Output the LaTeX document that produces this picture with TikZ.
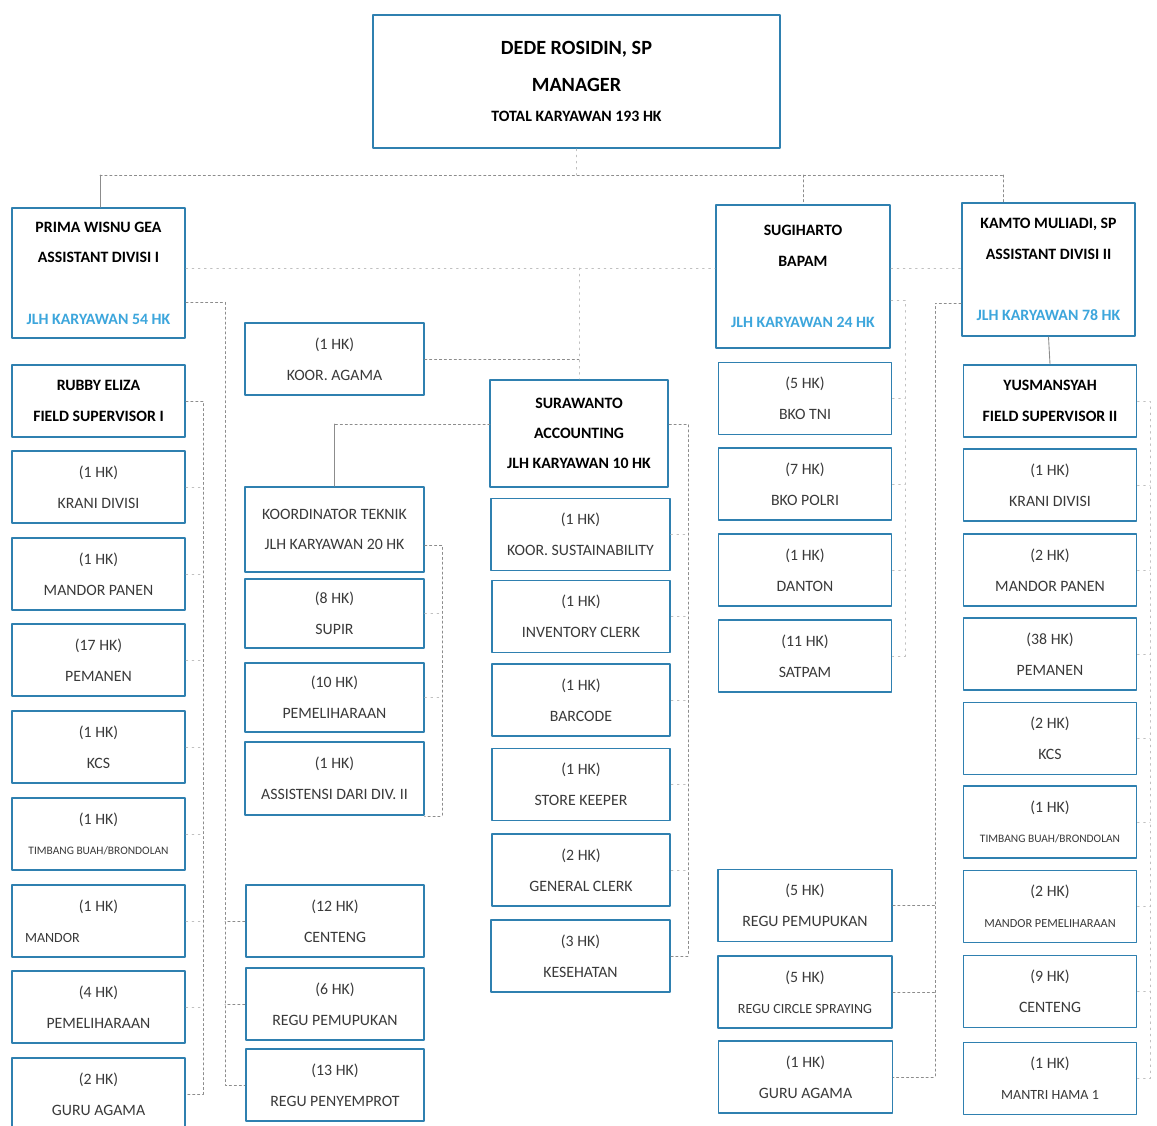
\documentclass[tikz,border=0pt]{standalone}
\usepackage{fontspec}
\setmainfont{Carlito}
\usepackage{xcolor}
\usepackage{tikz}
\usetikzlibrary{calc}
\definecolor{boxline}{HTML}{2F80B0}
\definecolor{jlh}{HTML}{3DA6DC}
\definecolor{ink}{HTML}{3A3A3A}
\definecolor{wire}{HTML}{8C8C8C}
\tikzset{
  unit/.style={draw=boxline, line width=1.1pt, fill=white, align=center, inner sep=0pt,
    text=ink, minimum width=3.46cm, minimum height=1.44cm,
    font=\fontsize{9}{17.5}\selectfont},
  head/.style={unit, text=black, font=\bfseries\fontsize{9}{17.5}\selectfont},
  wide/.style={minimum width=3.57cm},
  wire/.style={draw=wire, line width=0.5pt},
  dotwire/.style={draw=wire, line width=0.5pt, dash pattern=on 1.2pt off 1.6pt},
  faint/.style={draw=wire!55, line width=0.4pt, dash pattern=on 1pt off 2.5pt}
}
\newcommand{\hkline}[2]{(#1 HK)\\#2}
\newcommand{\jlh}[1]{\textcolor{jlh}{JLH KARYAWAN #1 HK}}

\begin{document}
\begin{tikzpicture}[x=0.02cm, y=-0.02cm, line cap=round, line join=round]
  \useasboundingbox (0,0) rectangle (1157,1126);

  % manager
  \node[head, minimum width=8.14cm, minimum height=2.66cm,
        font=\bfseries\fontsize{11.5}{20}\selectfont] (mgr) at (576.5,81.5)
    {DEDE ROSIDIN, SP\\[1pt]{\fontsize{11.5}{20}\selectfont MANAGER}\\[-3pt]{\fontsize{9}{20}\selectfont TOTAL KARYAWAN 193 HK}};

  % assistants and heads
  \node[head, minimum height=2.6cm] (prima) at (98.5,273)
    {PRIMA WISNU GEA\\ASSISTANT DIVISI I\\[17.5pt]\jlh{54}};
  \node[head, minimum width=3.48cm, minimum height=2.86cm] (sugi) at (803,276.5)
    {SUGIHARTO\\BAPAM\\[17.5pt]\jlh{24}};
  \node[head, minimum height=2.66cm] (kamto) at (1048.5,269.5)
    {KAMTO MULIADI, SP\\ASSISTANT DIVISI II\\[17.5pt]\jlh{78}};
  \node[head, wide, minimum height=2.14cm, font=\bfseries\fontsize{9}{17}\selectfont] (sura) at (579,433.5)
    {SURAWANTO\\ACCOUNTING\\JLH KARYAWAN 10 HK};

  % divisi I
  \node[head] (rubby) at (98.5,401) {RUBBY ELIZA\\FIELD SUPERVISOR I};
  \node[unit] (krani1) at (98.5,487) {\hkline{1}{KRANI DIVISI}};
  \node[unit] (mpanen1) at (98.5,574) {\hkline{1}{MANDOR PANEN}};
  \node[unit] (pemanen1) at (98.5,660) {\hkline{17}{PEMANEN}};
  \node[unit] (kcs1) at (98.5,747) {\hkline{1}{KCS}};
  \node[unit] (timbang1) at (98.5,834) {\hkline{1}{{\fontsize{6.5}{8}\selectfont TIMBANG BUAH/BRONDOLAN}}};
  \node[unit] (mandor1) at (98.5,921) {(1 HK)\\\makebox[2.94cm][l]{\fontsize{8}{10}\selectfont MANDOR}};
  \node[unit] (pemel1) at (98.5,1007) {\hkline{4}{PEMELIHARAAN}};
  \node[unit] (guru2) at (98.5,1094) {\hkline{2}{GURU AGAMA}};

  % koordinator
  \node[unit, wide] (agama) at (334.5,359) {\hkline{1}{KOOR. AGAMA}};
  \node[unit, wide, minimum height=1.7cm] (tek) at (334.5,529.5) {KOORDINATOR TEKNIK\\JLH KARYAWAN 20 HK};
  \node[unit, wide, minimum height=1.38cm] (supir) at (334.5,613.5) {\hkline{8}{SUPIR}};
  \node[unit, wide, minimum height=1.38cm] (pemel10) at (334.5,697.5) {\hkline{10}{PEMELIHARAAN}};
  \node[unit, wide, minimum height=1.46cm] (asis) at (334.5,778.5) {\hkline{1}{ASSISTENSI DARI DIV. II}};
  \node[unit, wide] (centeng12) at (335,921) {\hkline{12}{CENTENG}};
  \node[unit, wide] (regupem6) at (335,1004) {\hkline{6}{REGU PEMUPUKAN}};
  \node[unit, wide] (penyem) at (335,1085) {\hkline{13}{REGU PENYEMPROT}};

  % accounting
  \node[unit, wide] (sust) at (580.5,534.5) {\hkline{1}{KOOR. SUSTAINABILITY}};
  \node[unit, wide] (inv) at (581,616.5) {\hkline{1}{INVENTORY CLERK}};
  \node[unit, wide] (barcode) at (581,700) {\hkline{1}{BARCODE}};
  \node[unit, wide] (store) at (581,784.5) {\hkline{1}{STORE KEEPER}};
  \node[unit, wide] (gen) at (581,870) {\hkline{2}{GENERAL CLERK}};
  \node[unit, wide] (kes) at (580.5,956) {\hkline{3}{KESEHATAN}};

  % bapam
  \node[unit] (tni) at (805,398.5) {\hkline{5}{BKO TNI}};
  \node[unit] (polri) at (805,484) {\hkline{7}{BKO POLRI}};
  \node[unit] (danton) at (805,570) {\hkline{1}{DANTON}};
  \node[unit] (satpam) at (805,656) {\hkline{11}{SATPAM}};
  \node[unit, minimum width=3.48cm] (regupem5) at (805,905.5) {\hkline{5}{REGU PEMUPUKAN}};
  \node[unit, minimum width=3.48cm] (circle) at (805,992) {\hkline{5}{{\fontsize{8}{10}\selectfont REGU CIRCLE SPRAYING}}};
  \node[unit, minimum width=3.48cm] (guru1) at (805.5,1077) {\hkline{1}{GURU AGAMA}};

  % divisi II
  \node[head] (yus) at (1050,401) {YUSMANSYAH\\FIELD SUPERVISOR II};
  \node[unit] (krani2) at (1050,485) {\hkline{1}{KRANI DIVISI}};
  \node[unit] (mpanen2) at (1050,570) {\hkline{2}{MANDOR PANEN}};
  \node[unit] (pemanen2) at (1050,654) {\hkline{38}{PEMANEN}};
  \node[unit] (kcs2) at (1050,738.5) {\hkline{2}{KCS}};
  \node[unit] (timbang2) at (1050,822) {\hkline{1}{{\fontsize{6.5}{8}\selectfont TIMBANG BUAH/BRONDOLAN}}};
  \node[unit] (mpemel2) at (1050,906.5) {\hkline{2}{{\fontsize{7}{9}\selectfont MANDOR PEMELIHARAAN}}};
  \node[unit] (centeng9) at (1050,991.5) {\hkline{9}{CENTENG}};
  \node[unit] (mantri) at (1050,1078.5) {\hkline{1}{{\fontsize{8}{10}\selectfont MANTRI HAMA 1}}};

  % bus points
  \coordinate (topbus) at (100,175);
  \coordinate (topend) at (1003,175);
  \coordinate (asbus) at (0,268);
  \coordinate (priR) at (225,302);
  \coordinate (rubR) at (203,401);
  \coordinate (suraL) at (490,424);
  \coordinate (suraR) at (688,424);
  \coordinate (tekR) at (442,545);
  \coordinate (sugiR) at (905,300);
  \coordinate (kamL) at (935,303);
  \coordinate (yusR) at (1150,401);

  % manager to assistants
  \draw[faint] (mgr.south) -- (mgr.south |- topbus);
  \draw[dotwire] (topbus) -- (topend);
  \draw[wire] (topbus) -- (topbus |- prima.north);
  \draw[dotwire] (sugi.north |- topbus) -- (sugi.north);
  \draw[dotwire] (topend) -- (topend |- kamto.north);
  \draw[faint] (prima.east |- asbus) -- (sugi.west |- asbus);
  \draw[faint] (sugi.east |- asbus) -- (kamto.west |- asbus);
  \draw[faint] (sura.north |- asbus) -- (sura.north);
  \draw[dotwire] (agama.east) -- (agama.east -| sura.north);

  % divisi I lines
  \draw[dotwire] (prima.east |- priR) -- (priR) -- (priR |- penyem.west) -- (penyem.west);
  \foreach \n in {centeng12,regupem6}
    \draw[dotwire] (\n.west) -- (\n.west -| priR);
  \draw[dotwire] (rubby.east) -- (rubR) -- (rubR |- guru2.east) -- (guru2.east);
  \foreach \n in {krani1,mpanen1,pemanen1,kcs1,timbang1,mandor1,pemel1}
    \draw[faint] (\n.east) -- (\n.east -| rubR);

  % koordinator teknik
  \draw[dotwire] (suraL) -- (suraL -| tek.north);
  \draw[wire] (suraL -| tek.north) -- (tek.north);
  \draw[dotwire] (tek.east |- tekR) -- (tekR) -- (tekR |- asis.south) -- (asis.south east);
  \foreach \n in {supir,pemel10}
    \draw[faint] (\n.east) -- (\n.east -| tekR);

  % accounting
  \draw[dotwire] (sura.east |- suraR) -- (suraR) -- (suraR |- kes.east) -- (kes.east);
  \foreach \n in {sust,inv,barcode,store,gen}
    \draw[faint] (\n.east) -- (\n.east -| suraR);

  % bapam
  \draw[faint] (sugi.east |- sugiR) -- (sugiR) -- (sugiR |- satpam.east) -- (satpam.east);
  \foreach \n in {tni,polri,danton}
    \draw[faint] (\n.east) -- (\n.east -| sugiR);

  % divisi II lines
  \draw[dotwire] (kamto.west |- kamL) -- (kamL) -- (kamL |- guru1.east) -- (guru1.east);
  \foreach \n in {regupem5,circle}
    \draw[dotwire] (\n.east) -- (\n.east -| kamL);
  \draw[wire] (kamto.south) -- (yus.north);
  \draw[faint] (yus.east) -- (yusR) -- (yusR |- mantri.east) -- (mantri.east);
  \foreach \n in {krani2,mpanen2,pemanen2,kcs2,timbang2,mpemel2,centeng9}
    \draw[faint] (\n.east) -- (\n.east -| yusR);
\end{tikzpicture}
\end{document}
